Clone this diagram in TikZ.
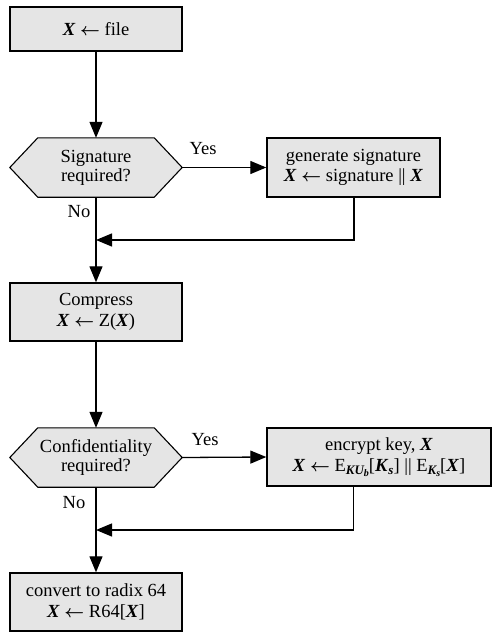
\documentclass[tikz,border=0pt]{standalone}
\usepackage{fontspec}
\setmainfont{Liberation Serif}
\usetikzlibrary{arrows.meta}
\newcommand{\vX}{\textbf{\textit{X}}}
\newcommand{\larr}{{\boldmath$\leftarrow$}}
\newcommand{\mysub}[1]{\raisebox{-0.4ex}{\fontsize{13}{13}\selectfont #1}}
\newcommand{\mysubsub}[1]{\raisebox{-0.3ex}{\fontsize{10}{10}\selectfont #1}}
\begin{document}
\begin{tikzpicture}[x=1pt,y=1pt,
  every node/.style={font=\fontsize{18.5}{21}\selectfont},
  procbox/.style={draw, line width=1.4pt, fill=black!10, align=center, inner sep=0pt},
  decbox/.style={align=center, inner sep=0pt, minimum width=172, minimum height=59},
  hexline/.style={draw, line width=1.1pt, fill=black!10},
  flow/.style={line width=1.3pt, -{Triangle[length=16pt,width=13pt]}},
  lbl/.style={inner sep=0pt}]
\useasboundingbox (0,0) rectangle (492,-632);
% process boxes
\node[procbox, minimum width=172, minimum height=44] (file) at (96,-29) {\vX\ \larr\ file};
\node[procbox, minimum width=173, minimum height=59] (sig) at (353.5,-167.5) {generate signature\\[-1pt]\vX\ \larr\ signature || \vX};
\node[procbox, minimum width=172, minimum height=58] (comp) at (96,-312) {Compress\\\vX\ \larr\ Z(\vX)};
\node[procbox, minimum width=224, minimum height=58] (enc) at (379,-457) {encrypt key, \vX\\\vX\ \larr\ E\mysub{\bfseries\itshape KU\mysubsub{b}}[\textbf{\textit{K}}\mysub{\bfseries\itshape s}] || E\mysub{\bfseries\itshape K\mysubsub{s}}[\vX]};
\node[procbox, minimum width=172, minimum height=58] (radix) at (96,-602) {convert to radix 64\\\vX\ \larr\ R64[\vX]};
% decision hexagons
\node[decbox] (dsig) at (96,-167.5) {};
\draw[hexline] (dsig.west) -- ([xshift=28]dsig.north west) -- ([xshift=-28]dsig.north east) -- (dsig.east) -- ([xshift=-28]dsig.south east) -- ([xshift=28]dsig.south west) -- cycle;
\node[align=center, font=\fontsize{18.5}{19}\selectfont] at (dsig) {Signature\\required?};
\node[decbox] (dconf) at (96,-457.5) {};
\draw[hexline] (dconf.west) -- ([xshift=28]dconf.north west) -- ([xshift=-28]dconf.north east) -- (dconf.east) -- ([xshift=-28]dconf.south east) -- ([xshift=28]dconf.south west) -- cycle;
\node[align=center, font=\fontsize{18.5}{19}\selectfont] at (dconf) {Confidentiality\\required?};
% join points
\coordinate (j1) at (96,-240);
\coordinate (j2) at (96,-530);
% connectors
\draw[flow] (file.south) -- (dsig.north);
\draw[flow] (dsig.east) -- (sig.west);
\draw[flow] (dsig.south) -- (comp.north);
\draw[flow] ([xshift=0.5]sig.south) |- (j1);
\draw[flow] (comp.south) -- (dconf.north);
\draw[flow] (dconf.east) -- (enc.west);
\draw[flow] (dconf.south) -- (radix.north);
\draw[flow] (enc.south -| sig.south) |- (j2);
% labels
\node[lbl] (y1) at (203,-149) {Yes};
\node[lbl] (n1) at (79,-212) {No};
\node[lbl] (y2) at (205,-440) {Yes};
\node[lbl] (n2) at (74,-503) {No};
\end{tikzpicture}
\end{document}
